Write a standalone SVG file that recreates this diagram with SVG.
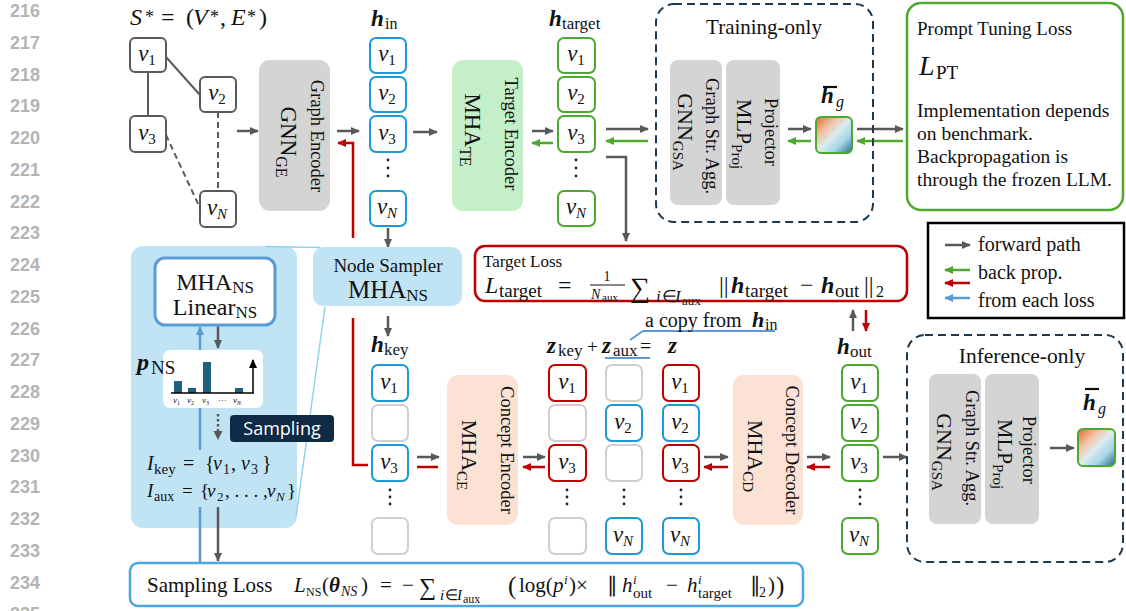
<svg xmlns="http://www.w3.org/2000/svg" width="1126" height="611" viewBox="0 0 1126 611">
<defs>
<style>
.ln{font-family:"Liberation Sans",sans-serif;font-weight:bold;font-size:18px;fill:#b4b4b4}
.t{font-family:"Liberation Serif",serif;fill:#111}
.i{font-style:italic}
.bi{font-style:italic;font-weight:bold}
.n{font-style:normal;font-weight:normal}
.box{fill:#fff;stroke-width:2}
.gb{stroke:#5a5a5a}
.bl{stroke:#1c9ad6}
.gr{stroke:#4ea72e}
.rd{stroke:#c00000}
.em{stroke:#cfcfcf}
.vl{font-family:"Liberation Serif",serif;font-style:italic;font-size:23px;text-anchor:middle;fill:#111}
.sb{font-style:normal;font-size:15px}
.sbi{font-style:italic;font-size:15px}
.ag{stroke:#595959;stroke-width:2.5;fill:none;marker-end:url(#mg)}
.agn{stroke:#4ea72e;stroke-width:2.5;fill:none;marker-end:url(#mgn)}
.ar{stroke:#c00000;stroke-width:2.5;fill:none;marker-end:url(#mr)}
.ab{stroke:#5b9bd5;stroke-width:2.5;fill:none;marker-end:url(#mb)}
.rl{stroke:#c00000;stroke-width:2.5;fill:none}
.gray{fill:#d4d4d4}
.dash{fill:none;stroke:#1d3a52;stroke-width:2;stroke-dasharray:8 5}
.dot{fill:#222}
</style>
<marker id="mg" viewBox="0 0 10 10" refX="9" refY="5" markerWidth="9" markerHeight="9" markerUnits="userSpaceOnUse" orient="auto"><path d="M0,0.5 L10,5 L0,9.5 z" fill="#595959"/></marker>
<marker id="mgn" viewBox="0 0 10 10" refX="9" refY="5" markerWidth="9" markerHeight="9" markerUnits="userSpaceOnUse" orient="auto"><path d="M0,0.5 L10,5 L0,9.5 z" fill="#4ea72e"/></marker>
<marker id="mr" viewBox="0 0 10 10" refX="9" refY="5" markerWidth="9" markerHeight="9" markerUnits="userSpaceOnUse" orient="auto"><path d="M0,0.5 L10,5 L0,9.5 z" fill="#c00000"/></marker>
<marker id="mb" viewBox="0 0 10 10" refX="9" refY="5" markerWidth="9" markerHeight="9" markerUnits="userSpaceOnUse" orient="auto"><path d="M0,0.5 L10,5 L0,9.5 z" fill="#5b9bd5"/></marker>
<marker id="mk" viewBox="0 0 10 10" refX="9" refY="5" markerWidth="9" markerHeight="9" markerUnits="userSpaceOnUse" orient="auto"><path d="M0,0.5 L10,5 L0,9.5 z" fill="#000"/></marker>
<linearGradient id="hg" x1="0" y1="0" x2="1" y2="1">
<stop offset="0" stop-color="#e5672f"/>
<stop offset="0.3" stop-color="#f2c3a6"/>
<stop offset="0.5" stop-color="#dcebf0"/>
<stop offset="0.72" stop-color="#a7d6e8"/>
<stop offset="1" stop-color="#236a90"/>
</linearGradient>
</defs>
<rect width="1126" height="611" fill="#fff"/>

<g id="line-numbers" class="ln">
<text x="10" y="17">216</text><text x="10" y="48.75">217</text><text x="10" y="80.5">218</text><text x="10" y="112.25">219</text><text x="10" y="144">220</text><text x="10" y="175.75">221</text><text x="10" y="207.5">222</text><text x="10" y="239.25">223</text><text x="10" y="271">224</text><text x="10" y="302.75">225</text><text x="10" y="334.5">226</text><text x="10" y="366.25">227</text><text x="10" y="398">228</text><text x="10" y="429.75">229</text><text x="10" y="461.5">230</text><text x="10" y="493.25">231</text><text x="10" y="525">232</text><text x="10" y="556.75">233</text><text x="10" y="588.5">234</text><text x="10" y="620.25">235</text>
</g>

<g id="sampler-panel">
<rect x="131" y="246" width="166" height="282" rx="12" fill="#c1e4f5"/>
</g>

<g id="connectors">
<line x1="148" y1="72" x2="148" y2="116" stroke="#5a5a5a" stroke-width="2"/>
<line x1="166" y1="57" x2="200" y2="95" stroke="#5a5a5a" stroke-width="2"/>
<line x1="218" y1="112" x2="218" y2="191" stroke="#5a5a5a" stroke-width="2" stroke-dasharray="6 4"/>
<line x1="166" y1="135" x2="200" y2="208" stroke="#5a5a5a" stroke-width="2" stroke-dasharray="6 4"/>
<line x1="265" y1="246.5" x2="320" y2="247.5" stroke="#8fd3ee" stroke-width="1.5"/>
<line x1="296" y1="517" x2="325" y2="307" stroke="#8fd3ee" stroke-width="1.5"/>
<line class="ag" x1="237" y1="131" x2="258" y2="131"/>
<line class="ag" x1="337" y1="131" x2="359" y2="131"/>
<path class="ar" d="M353,238 V143 H338"/>
<line class="ag" x1="413" y1="132" x2="437" y2="132"/>
<line class="ag" x1="532" y1="131" x2="553" y2="131"/>
<line class="agn" x1="553" y1="143" x2="532" y2="143"/>
<line class="ag" x1="606" y1="129" x2="648" y2="129"/>
<line class="agn" x1="648" y1="141" x2="606" y2="141"/>
<path class="ag" d="M606,157 H626 V241"/>
<line class="ag" x1="788" y1="129" x2="811" y2="129"/>
<line class="agn" x1="811" y1="141" x2="788" y2="141"/>
<line class="ag" x1="857" y1="129" x2="903" y2="129"/>
<line class="agn" x1="903" y1="141" x2="857" y2="141"/>
<line class="ag" x1="388" y1="228" x2="388" y2="247"/>
<line class="ag" x1="388" y1="316" x2="388" y2="336"/>
<path class="rl" d="M353,318 V465 H368"/>
<line class="ag" x1="417" y1="457" x2="439" y2="457"/>
<line class="rl" x1="417" y1="467" x2="438" y2="467"/>
<line class="ag" x1="523" y1="457" x2="545" y2="457"/>
<line class="ar" x1="545" y1="467" x2="523" y2="467"/>
<line class="ag" x1="704" y1="457" x2="728" y2="457"/>
<line class="ar" x1="728" y1="467" x2="704" y2="467"/>
<line class="ag" x1="807" y1="457" x2="830" y2="457"/>
<line class="ar" x1="830" y1="467" x2="807" y2="467"/>
<line class="ag" x1="883" y1="457" x2="907" y2="457"/>
<line class="ag" x1="1050" y1="448" x2="1074" y2="448"/>
<line class="ag" x1="853" y1="331" x2="853" y2="310"/>
<line class="ar" x1="866" y1="310" x2="866" y2="331"/>
<line class="ab" x1="200" y1="450" x2="200" y2="327"/>
<line x1="200" y1="507" x2="200" y2="563" stroke="#5b9bd5" stroke-width="2.5"/>
<line class="ag" x1="218" y1="326" x2="218" y2="348"/>
<line x1="218" y1="414" x2="218" y2="432" stroke="#595959" stroke-width="2.5" stroke-dasharray="2.5 2.5"/>
<path d="M213.5,431 L222.5,431 L218,440 z" fill="#595959"/>
<line class="ag" x1="218" y1="507" x2="218" y2="561"/>
<path d="M630,340 L643,331 H775" fill="none" stroke="#5b9bd5" stroke-width="1.8"/>
<line x1="605" y1="358" x2="650" y2="358" stroke="#5b9bd5" stroke-width="1.8"/>
</g>

<g id="s-graph">
<text class="t" font-size="24" y="25"><tspan x="130" class="i">S</tspan><tspan x="145" y="23" font-size="18">*</tspan><tspan x="161" y="25">=</tspan><tspan x="186">(</tspan><tspan x="193" class="i">V</tspan><tspan x="210" y="23" font-size="18">*</tspan><tspan x="220" y="25">,</tspan><tspan x="231" class="i">E</tspan><tspan x="247" y="23" font-size="18">*</tspan><tspan x="259" y="25">)</tspan></text>
</g>
<g id="g-v1"><rect class="box gb" x="130" y="38" width="36" height="34" rx="5"/><text class="vl" x="147" y="61">v<tspan class="sb" dy="4">1</tspan></text></g>
<g id="g-v2"><rect class="box gb" x="200" y="77" width="36" height="35" rx="5"/><text class="vl" x="217" y="100">v<tspan class="sb" dy="4">2</tspan></text></g>
<g id="g-v3"><rect class="box gb" x="130" y="116" width="36" height="36" rx="5"/><text class="vl" x="147" y="140">v<tspan class="sb" dy="4">3</tspan></text></g>
<g id="g-vN"><rect class="box gb" x="200" y="191" width="36" height="36" rx="5"/><text class="vl" x="217" y="215">v<tspan class="sbi" dy="4">N</tspan></text></g>

<g id="graph-encoder">
<rect class="gray" x="259" y="60" width="71" height="151" rx="11"/>
<text class="t" font-size="18.5" text-anchor="middle" transform="translate(311,136) rotate(90)">Graph Encoder</text>
<text class="t" font-size="23" text-anchor="middle" transform="translate(281,142) rotate(90)">GNN<tspan font-size="16" dy="5">GE</tspan></text>
</g>

<g id="h-in">
<text class="t" y="26"><tspan x="371" class="bi" font-size="23">h</tspan><tspan x="385" y="29" font-size="16">in</tspan></text>
<rect class="box bl" x="370" y="38" width="36" height="35" rx="6"/><text class="vl" x="387" y="61">v<tspan class="sb" dy="4">1</tspan></text>
<rect class="box bl" x="370" y="77" width="36" height="35" rx="6"/><text class="vl" x="387" y="100">v<tspan class="sb" dy="4">2</tspan></text>
<rect class="box bl" x="370" y="116" width="36" height="36" rx="6"/><text class="vl" x="387" y="140">v<tspan class="sb" dy="4">3</tspan></text>
<circle class="dot" cx="388" cy="160" r="1.4"/><circle class="dot" cx="388" cy="168" r="1.4"/><circle class="dot" cx="388" cy="176" r="1.4"/>
<rect class="box bl" x="370" y="191" width="36" height="35" rx="6"/><text class="vl" x="387" y="214">v<tspan class="sbi" dy="4">N</tspan></text>
</g>

<g id="target-encoder">
<rect x="452" y="60" width="71" height="151" rx="11" fill="#c5efc8"/>
<text class="t" font-size="18.5" text-anchor="middle" transform="translate(505,134) rotate(90)">Target Encoder</text>
<text class="t" font-size="23" text-anchor="middle" transform="translate(465,130) rotate(90)">MHA<tspan font-size="16" dy="5">TE</tspan></text>
</g>

<g id="h-target">
<text class="t" y="26"><tspan x="549" class="bi" font-size="23">h</tspan><tspan x="562" y="29" font-size="17">target</tspan></text>
<rect class="box gr" x="558" y="38" width="37" height="35" rx="6"/><text class="vl" x="576" y="61">v<tspan class="sb" dy="4">1</tspan></text>
<rect class="box gr" x="558" y="77" width="37" height="35" rx="6"/><text class="vl" x="576" y="100">v<tspan class="sb" dy="4">2</tspan></text>
<rect class="box gr" x="558" y="116" width="37" height="36" rx="6"/><text class="vl" x="576" y="140">v<tspan class="sb" dy="4">3</tspan></text>
<circle class="dot" cx="576" cy="160" r="1.4"/><circle class="dot" cx="576" cy="168" r="1.4"/><circle class="dot" cx="576" cy="176" r="1.4"/>
<rect class="box gr" x="558" y="191" width="37" height="35" rx="6"/><text class="vl" x="576" y="214">v<tspan class="sbi" dy="4">N</tspan></text>
</g>

<g id="training-only">
<rect class="dash" x="656" y="4" width="217" height="218" rx="18"/>
<text class="t" font-size="21" text-anchor="middle" x="764" y="34">Training-only</text>
<rect class="gray" x="670" y="60" width="52" height="145" rx="8"/>
<text class="t" font-size="18.5" text-anchor="middle" transform="translate(706,136) rotate(90)">Graph Str. Agg.</text>
<text class="t" font-size="22" text-anchor="middle" transform="translate(678,132) rotate(90)">GNN<tspan font-size="15" dy="5">GSA</tspan></text>
<rect class="gray" x="726" y="60" width="54" height="145" rx="8"/>
<text class="t" font-size="18.5" text-anchor="middle" transform="translate(765,132) rotate(90)">Projector</text>
<text class="t" font-size="22" text-anchor="middle" transform="translate(737,134) rotate(90)">MLP<tspan font-size="15" dy="5">Proj</tspan></text>
<line x1="823" y1="87" x2="837" y2="87" stroke="#111" stroke-width="2.2"/>
<text class="t" y="103"><tspan x="821" class="bi" font-size="23">h</tspan><tspan x="836" y="107" class="i" font-size="16">g</tspan></text>
<rect x="816" y="117" width="36" height="36" rx="5" fill="url(#hg)" stroke="#4ea72e" stroke-width="2"/>
</g>

<g id="prompt-tuning-loss">
<rect x="907" y="3" width="216" height="207" rx="14" fill="#fff" stroke="#4ea72e" stroke-width="2.5"/>
<text class="t" font-size="19" x="917" y="35">Prompt Tuning Loss</text>
<text class="t" y="75"><tspan x="919" class="i" font-size="28">L</tspan><tspan x="936" y="79" font-size="19">PT</tspan></text>
<text class="t" font-size="19.5" x="917" y="117">Implementation depends</text>
<text class="t" font-size="19.5" x="917" y="140">on benchmark.</text>
<text class="t" font-size="19.5" x="917" y="163">Backpropagation is</text>
<text class="t" font-size="19.5" x="917" y="186">through the frozen LLM.</text>
</g>

<g id="legend">
<rect x="928" y="223" width="196" height="95" fill="#fff" stroke="#000" stroke-width="2.5"/>
<line class="ag" x1="945" y1="245" x2="970" y2="245"/>
<text class="t" font-size="20" x="978" y="251">forward path</text>
<line class="agn" x1="970" y1="270" x2="945" y2="270"/>
<line class="ar" x1="970" y1="283" x2="945" y2="283"/>
<text class="t" font-size="20" x="978" y="279">back prop.</text>
<line class="ab" x1="970" y1="298" x2="945" y2="298"/>
<text class="t" font-size="20" x="978" y="307">from each loss</text>
</g>

<g id="target-loss">
<rect x="475" y="246" width="432" height="55" rx="10" fill="#fff" stroke="#c00000" stroke-width="2.5"/>
<text class="t" font-size="17" x="483" y="267">Target Loss</text>
<text class="t" font-size="24" y="293"><tspan x="485" class="i">L</tspan><tspan x="499" y="297" font-size="19">target</tspan><tspan x="558" y="293">=</tspan><tspan x="630" y="297" font-size="28">∑</tspan><tspan x="719" y="293">||</tspan><tspan x="731" class="bi">h</tspan><tspan x="745" y="297" font-size="19">target</tspan><tspan x="800" y="293">−</tspan><tspan x="821" class="bi">h</tspan><tspan x="835" y="297" font-size="19">out</tspan><tspan x="864" y="293">||</tspan><tspan x="876" y="297" font-size="16">2</tspan></text>
<text class="t" font-size="14" x="607" y="281" text-anchor="middle">1</text>
<line x1="590" y1="285" x2="625" y2="285" stroke="#111" stroke-width="1"/>
<text class="t" y="299"><tspan x="591" class="i" font-size="14">N</tspan><tspan x="602" y="301" font-size="11">aux</tspan></text>
<text class="t" y="302"><tspan x="656" class="i" font-size="17">i</tspan><tspan x="662" font-size="17">∈</tspan><tspan x="675" class="i" font-size="17">I</tspan><tspan x="682" y="305" font-size="13">aux</tspan></text>
</g>

<g id="copy-label">
<text class="t" font-size="20" y="327"><tspan x="645">a copy from</tspan><tspan x="752" class="bi" font-size="22">h</tspan><tspan x="765" y="330" font-size="16">in</tspan></text>
</g>

<g id="node-sampler">
<rect x="313" y="247" width="149" height="59" rx="10" fill="#c1e4f5"/>
<text class="t" font-size="19" text-anchor="middle" x="388" y="272">Node Sampler</text>
<text class="t" font-size="25" text-anchor="middle" x="388" y="298">MHA<tspan font-size="17" dy="3">NS</tspan></text>
</g>

<g id="sampler-detail">
<rect x="155" y="258" width="120" height="67" rx="10" fill="#fff" stroke="#5b9bd5" stroke-width="3"/>
<text class="t" font-size="24" text-anchor="middle" x="215" y="290">MHA<tspan font-size="17" dy="3">NS</tspan></text>
<text class="t" font-size="24" text-anchor="middle" x="215" y="315">Linear<tspan font-size="17" dy="3">NS</tspan></text>
<rect x="163" y="350" width="100" height="58" rx="7" fill="#fff"/>
<text class="t" y="370"><tspan x="137" class="bi" font-size="24">p</tspan><tspan x="151" y="374" font-size="19">NS</tspan></text>
<rect x="174" y="381" width="8" height="12" fill="#1f5f80"/>
<rect x="188" y="388" width="8" height="5" fill="#1f5f80"/>
<rect x="203" y="362" width="8" height="31" fill="#1f5f80"/>
<rect x="235" y="388" width="8" height="5" fill="#1f5f80"/>
<line x1="171" y1="393" x2="254" y2="393" stroke="#000" stroke-width="1.5"/>
<line x1="253" y1="393" x2="253" y2="360" stroke="#000" stroke-width="1.5" marker-end="url(#mk)"/>
<text class="t i" font-size="9" y="403"><tspan x="173">v</tspan><tspan font-size="6" class="n" dy="1.5">1</tspan><tspan x="187" dy="-1.5">v</tspan><tspan font-size="6" class="n" dy="1.5">2</tspan><tspan x="202" dy="-1.5">v</tspan><tspan font-size="6" class="n" dy="1.5">3</tspan><tspan x="218" dy="-1.5" class="n">···</tspan><tspan x="233">v</tspan><tspan font-size="6" dy="1.5">N</tspan></text>
<rect x="230" y="415" width="104" height="27" rx="4" fill="#0f2a44"/>
<text x="282" y="435" text-anchor="middle" font-family="Open Sans, sans-serif" font-size="18" fill="#fff">Sampling</text>
<text class="t" font-size="20" y="470"><tspan x="147" class="i">I</tspan><tspan x="154" y="474" font-size="15">key</tspan><tspan x="183" y="470">=</tspan><tspan x="205">{</tspan><tspan x="213" class="i">v</tspan><tspan x="223" y="474" font-size="14">1</tspan><tspan x="231" y="470">,</tspan><tspan x="241" class="i">v</tspan><tspan x="251" y="474" font-size="14">3</tspan><tspan x="262" y="470">}</tspan></text>
<text class="t" font-size="19" y="497"><tspan x="147" class="i">I</tspan><tspan x="154" y="501" font-size="14">aux</tspan><tspan x="182" y="497">=</tspan><tspan x="200">{</tspan><tspan x="207" class="i">v</tspan><tspan x="217" y="501" font-size="13">2</tspan><tspan x="225" y="497">, . . . ,</tspan><tspan x="267" class="i">v</tspan><tspan x="276" y="501" font-size="13" class="i">N</tspan><tspan x="287" y="497">}</tspan></text>
</g>

<g id="h-key">
<text class="t" y="352"><tspan x="371" class="bi" font-size="23">h</tspan><tspan x="384" y="355" font-size="17">key</tspan></text>
<rect class="box bl" x="372" y="365" width="36" height="36" rx="6"/><text class="vl" x="389" y="389">v<tspan class="sb" dy="4">1</tspan></text>
<rect class="box em" x="372" y="405" width="36" height="36" rx="6"/>
<rect class="box bl" x="372" y="445" width="36" height="36" rx="6"/><text class="vl" x="389" y="469">v<tspan class="sb" dy="4">3</tspan></text>
<circle class="dot" cx="390" cy="490" r="1.4"/><circle class="dot" cx="390" cy="497" r="1.4"/><circle class="dot" cx="390" cy="504" r="1.4"/>
<rect class="box em" x="372" y="518" width="36" height="36" rx="6"/>
</g>

<g id="concept-encoder">
<rect x="447" y="375" width="71" height="150" rx="11" fill="#fbe2d5"/>
<text class="t" font-size="18.5" text-anchor="middle" transform="translate(501,450) rotate(90)">Concept Encoder</text>
<text class="t" font-size="22" text-anchor="middle" transform="translate(462,455) rotate(90)">MHA<tspan font-size="15" dy="5">CE</tspan></text>
</g>

<g id="z-labels">
<text class="t" y="353"><tspan x="547" class="bi" font-size="23">z</tspan><tspan x="558" y="356" font-size="17">key</tspan><tspan x="587" y="353" font-size="19">+</tspan><tspan x="602" class="bi" font-size="23">z</tspan><tspan x="613" y="356" font-size="17">aux</tspan><tspan x="640" y="353" font-size="20">=</tspan><tspan x="668" class="bi" font-size="23">z</tspan></text>
</g>

<g id="z-key">
<rect class="box rd" x="549" y="365" width="37" height="36" rx="6"/><text class="vl" x="567" y="389">v<tspan class="sb" dy="4">1</tspan></text>
<rect class="box em" x="549" y="405" width="37" height="36" rx="6"/>
<rect class="box rd" x="549" y="445" width="37" height="36" rx="6"/><text class="vl" x="567" y="469">v<tspan class="sb" dy="4">3</tspan></text>
<circle class="dot" cx="567" cy="490" r="1.4"/><circle class="dot" cx="567" cy="497" r="1.4"/><circle class="dot" cx="567" cy="504" r="1.4"/>
<rect class="box em" x="549" y="518" width="37" height="36" rx="6"/>
</g>

<g id="z-aux">
<rect class="box em" x="606" y="365" width="36" height="36" rx="6"/>
<rect class="box bl" x="606" y="405" width="36" height="36" rx="6"/><text class="vl" x="623" y="429">v<tspan class="sb" dy="4">2</tspan></text>
<rect class="box em" x="606" y="445" width="36" height="36" rx="6"/>
<circle class="dot" cx="624" cy="490" r="1.4"/><circle class="dot" cx="624" cy="497" r="1.4"/><circle class="dot" cx="624" cy="504" r="1.4"/>
<rect class="box bl" x="606" y="518" width="36" height="36" rx="6"/><text class="vl" x="623" y="542">v<tspan class="sbi" dy="4">N</tspan></text>
</g>

<g id="z">
<rect class="box rd" x="663" y="365" width="36" height="36" rx="6"/><text class="vl" x="680" y="389">v<tspan class="sb" dy="4">1</tspan></text>
<rect class="box bl" x="663" y="405" width="36" height="36" rx="6"/><text class="vl" x="680" y="429">v<tspan class="sb" dy="4">2</tspan></text>
<rect class="box rd" x="663" y="445" width="36" height="36" rx="6"/><text class="vl" x="680" y="469">v<tspan class="sb" dy="4">3</tspan></text>
<circle class="dot" cx="681" cy="490" r="1.4"/><circle class="dot" cx="681" cy="497" r="1.4"/><circle class="dot" cx="681" cy="504" r="1.4"/>
<rect class="box bl" x="663" y="518" width="36" height="36" rx="6"/><text class="vl" x="680" y="542">v<tspan class="sbi" dy="4">N</tspan></text>
</g>

<g id="concept-decoder">
<rect x="733" y="375" width="70" height="150" rx="11" fill="#fbe2d5"/>
<text class="t" font-size="18.5" text-anchor="middle" transform="translate(786,450) rotate(90)">Concept Decoder</text>
<text class="t" font-size="22" text-anchor="middle" transform="translate(748,456) rotate(90)">MHA<tspan font-size="15" dy="5">CD</tspan></text>
</g>

<g id="h-out">
<text class="t" y="354"><tspan x="837" class="bi" font-size="23">h</tspan><tspan x="850" y="357" font-size="17">out</tspan></text>
<rect class="box gr" x="842" y="365" width="36" height="36" rx="6"/><text class="vl" x="859" y="389">v<tspan class="sb" dy="4">1</tspan></text>
<rect class="box gr" x="842" y="405" width="36" height="36" rx="6"/><text class="vl" x="859" y="429">v<tspan class="sb" dy="4">2</tspan></text>
<rect class="box gr" x="842" y="445" width="36" height="36" rx="6"/><text class="vl" x="859" y="469">v<tspan class="sb" dy="4">3</tspan></text>
<circle class="dot" cx="860" cy="490" r="1.4"/><circle class="dot" cx="860" cy="497" r="1.4"/><circle class="dot" cx="860" cy="504" r="1.4"/>
<rect class="box gr" x="842" y="518" width="36" height="36" rx="6"/><text class="vl" x="859" y="542">v<tspan class="sbi" dy="4">N</tspan></text>
</g>

<g id="inference-only">
<rect class="dash" x="907" y="335" width="216" height="227" rx="18"/>
<text class="t" font-size="21.5" text-anchor="middle" x="1022" y="363">Inference-only</text>
<rect class="gray" x="929" y="374" width="52" height="150" rx="8"/>
<text class="t" font-size="18.5" text-anchor="middle" transform="translate(966,448) rotate(90)">Graph Str. Agg.</text>
<text class="t" font-size="22" text-anchor="middle" transform="translate(937,452) rotate(90)">GNN<tspan font-size="15" dy="5">GSA</tspan></text>
<rect class="gray" x="985" y="374" width="54" height="150" rx="8"/>
<text class="t" font-size="18.5" text-anchor="middle" transform="translate(1023,450) rotate(90)">Projector</text>
<text class="t" font-size="22" text-anchor="middle" transform="translate(998,454) rotate(90)">MLP<tspan font-size="15" dy="5">Proj</tspan></text>
<line x1="1085" y1="389" x2="1099" y2="389" stroke="#111" stroke-width="2.2"/>
<text class="t" y="410"><tspan x="1083" class="bi" font-size="23">h</tspan><tspan x="1098" y="414" class="i" font-size="16">g</tspan></text>
<rect x="1078" y="429" width="37" height="37" rx="5" fill="url(#hg)" stroke="#4ea72e" stroke-width="2"/>
</g>

<g id="sampling-loss">
<rect x="130" y="563" width="673" height="43" rx="8" fill="#fff" stroke="#4aa7e0" stroke-width="2.5"/>
<text class="t" font-size="21" x="147" y="592">Sampling Loss</text>
<text class="t" font-size="21" y="592"><tspan x="294" class="i">L</tspan><tspan x="306" y="596" font-size="12">NS</tspan><tspan x="322" y="592">(</tspan><tspan x="329" class="bi">θ</tspan><tspan x="341" y="596" class="i" font-size="14">NS</tspan><tspan x="361" y="592">)</tspan><tspan x="380">=</tspan><tspan x="402">−</tspan><tspan x="419" y="595" font-size="24">∑</tspan><tspan x="440" y="600" class="i" font-size="15">i</tspan><tspan x="445" font-size="15">∈</tspan><tspan x="457" class="i" font-size="15">I</tspan><tspan x="463" y="603" font-size="12">aux</tspan><tspan x="508" y="594" font-size="25">(</tspan><tspan x="519" y="592">log(</tspan><tspan x="553" class="i">p</tspan><tspan x="564" y="584" class="i" font-size="13">i</tspan><tspan x="569" y="592">)×</tspan><tspan x="607">∥</tspan><tspan x="622" class="i">h</tspan><tspan x="633" y="584" class="i" font-size="13">i</tspan><tspan x="633" y="598" font-size="15">out</tspan><tspan x="666" y="592">−</tspan><tspan x="687" class="i">h</tspan><tspan x="698" y="584" class="i" font-size="13">i</tspan><tspan x="698" y="598" font-size="15">target</tspan><tspan x="750" y="592">∥</tspan><tspan x="759" y="597" font-size="14">2</tspan><tspan x="768" y="592">)</tspan><tspan x="776" y="594" font-size="25">)</tspan></text>
</g>
</svg>
